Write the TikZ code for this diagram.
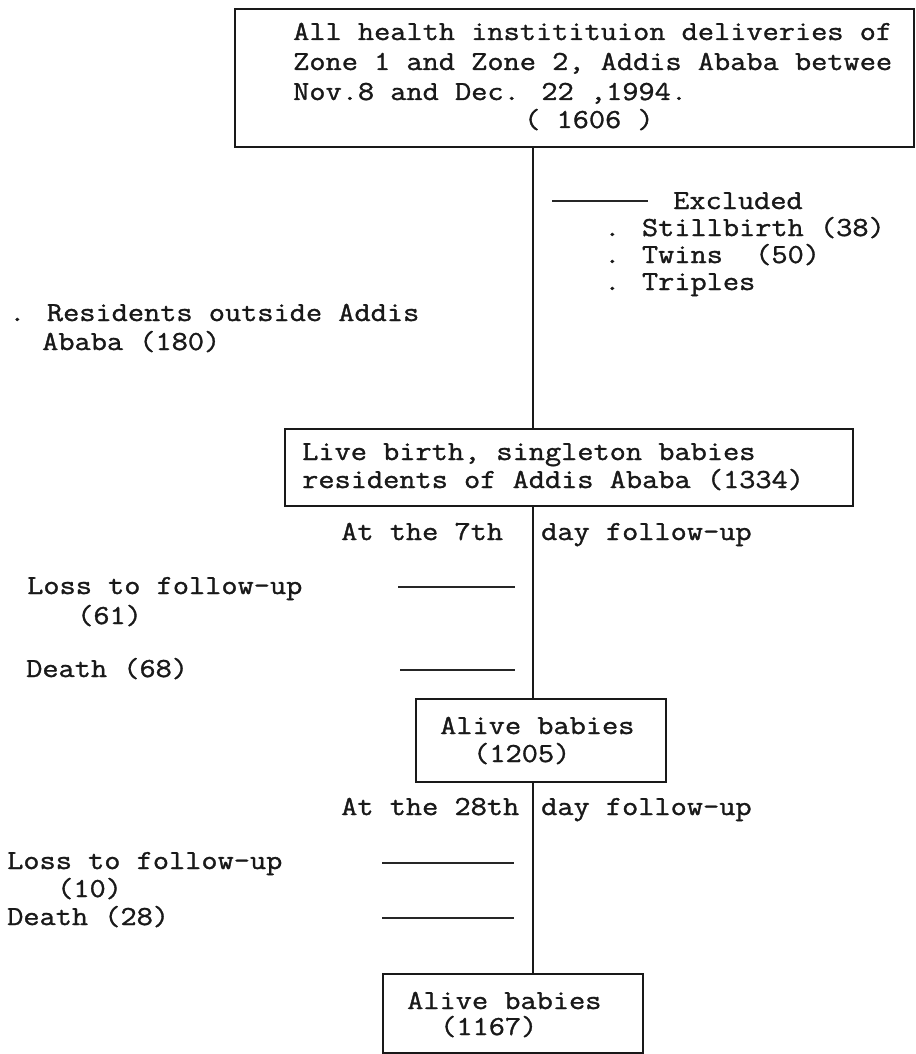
\documentclass[tikz,border=0pt]{standalone}
\usepackage{fontspec}
\newfontfamily\cour{Latin Modern Mono}[FakeStretch=1.143,FakeBold=1.2]
\begin{document}
\begin{tikzpicture}[x=1pt,y=-1pt,
  txt/.style={anchor=base west,inner sep=0pt,font=\cour\fontsize{27.5}{30}\selectfont,text=black!90},
  boxed/.style={draw=black!90,line width=1.6pt,anchor=north west,inner sep=0pt},
  link/.style={draw=black!90,line width=1.3pt},
  tick/.style={draw=black!85,line width=1.2pt}]
\useasboundingbox[fill=white] (0,0) rectangle (915,1054);
\coordinate (spine) at (533,0);
% boxes
\node[boxed,minimum width=679pt,minimum height=138pt] (top) at (234,8) {};
\node[boxed,minimum width=568pt,minimum height=77pt] (live) at (284,428) {};
\node[boxed,minimum width=250pt,minimum height=83pt] (alive1) at (415,698) {};
\node[boxed,minimum width=260pt,minimum height=79pt] (alive2) at (382,973) {};
% top box text
\node[txt] (t1) at (293,40) {All health institituion deliveries of};
\node[txt] (t2) at (293,70) {Zone 1 and Zone 2, Addis Ababa betwee};
\node[txt] (t3) at (293,100) {Nov.8 and Dec. 22 ,1994.};
\node[txt] (t4) at (524,128) {( 1606 )};
% excluded
\coordinate (exa) at (552,201);
\coordinate (exb) at (648,201);
\node[txt] (ex) at (673,209) {Excluded};
\node[txt] (ex1) at (604,236) {. Stillbirth (38)};
\node[txt] (ex2) at (604,263) {. Twins~ (50)};
\node[txt] (ex3) at (604,290) {. Triples};
% residents
\node[txt] (r1) at (9,321) {. Residents outside Addis};
\node[txt] (r2) at (42,350) {Ababa (180)};
% live birth box text
\node[txt] (l1) at (302,460) {Live birth, singleton babies};
\node[txt] (l2) at (302,488) {residents of Addis Ababa (1334)};
% 7th day
\node[txt] (d7a) at (341,540) {At the 7th};
\node[txt] (d7b) at (541,540) {day follow-up};
\node[txt] (lo1) at (27,594) {Loss to follow-up};
\node[txt] (lo1b) at (77,624) {(61)};
\node[txt] (de1) at (26,677) {Death (68)};
\coordinate (s1a) at (398,587);
\coordinate (s1b) at (515,587);
\coordinate (s2a) at (400,670);
\coordinate (s2b) at (515,670);
% alive 1205
\node[txt] (a1) at (440,734) {Alive babies};
\node[txt] (a1b) at (473,762) {(1205)};
% 28th day
\node[txt] (d28a) at (341,815) {At the 28th};
\node[txt] (d28b) at (541,815) {day follow-up};
\node[txt] (lo2) at (7,869) {Loss to follow-up};
\node[txt] (lo2b) at (57,897) {(10)};
\node[txt] (de2) at (7,925) {Death (28)};
\coordinate (s3a) at (382,863);
\coordinate (s3b) at (514,863);
\coordinate (s4a) at (382,918);
\coordinate (s4b) at (514,918);
% alive 1167
\node[txt] (a2) at (407,1009) {Alive babies};
\node[txt] (a2b) at (440,1035) {(1167)};
% connectors
\draw[link] (top.south -| spine) -- (live.north -| spine);
\draw[link] (live.south -| spine) -- (alive1.north -| spine);
\draw[link] (alive1.south -| spine) -- (alive2.north -| spine);
\draw[tick] (exa) -- (exb);
\draw[tick] (s1a) -- (s1b);
\draw[tick] (s2a) -- (s2b);
\draw[tick] (s3a) -- (s3b);
\draw[tick] (s4a) -- (s4b);
\end{tikzpicture}
\end{document}
